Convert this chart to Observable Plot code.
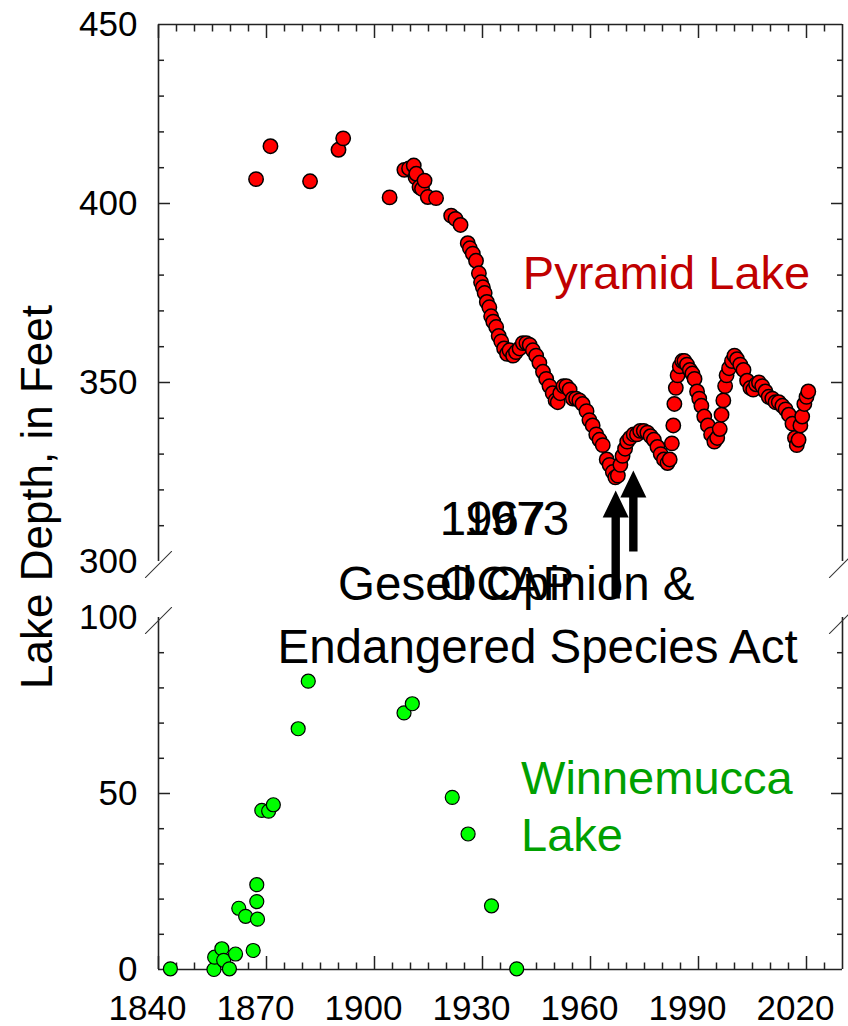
<!DOCTYPE html>
<html>
<head>
<meta charset="utf-8">
<script src="https://cdn.jsdelivr.net/npm/d3@7"></script>
<script src="https://cdn.jsdelivr.net/npm/@observablehq/plot@0.6"></script>
<style>
  html, body { margin: 0; padding: 0; background: #fff; }
  #chart svg { display: block; }
</style>
</head>
<body>
<div id="chart"></div>
<script>
// Winnemucca Lake depth readings (year, feet)
const winnemuccaYears = [
  1843.3, 1855.4, 1855.6, 1857.6, 1858.1, 1859.7, 1861.4, 1862.3, 1864.2, 1866.3,
  1867.3, 1867.3, 1867.5, 1868.7, 1870.6, 1871.9, 1878.8, 1881.6, 1908.2, 1910.5,
  1921.6, 1926.0, 1932.5, 1939.5
];
const winnemuccaDepths = [
  0.2, 0, 3.5, 5.9, 2.6, 0.2, 4.4, 17.4, 15.1, 5.4,
  24.1, 19.3, 14.3, 45.2, 45.0, 46.8, 68.4, 81.9, 72.9, 75.5,
  48.9, 38.5, 18.1, 0.2
];

// Pyramid Lake depth readings (year, feet)
const pyramidYears = [
  1867.1, 1871.1, 1882.1, 1890.0, 1891.3, 1904.2, 1908.3, 1909.6, 1910.9, 1911.4,
  1911.6, 1912.5, 1913.2, 1913.9, 1914.8, 1917.1, 1921.3, 1922.5, 1923.9, 1925.9,
  1926.5, 1927.3, 1928.2, 1929.0, 1929.6, 1930.1, 1930.6, 1931.2, 1931.9, 1932.4,
  1933.0, 1933.8, 1934.5, 1935.2, 1936.0, 1936.8, 1937.5, 1938.5, 1939.3, 1940.3,
  1941.2, 1942.2, 1943.1, 1944.0, 1944.9, 1945.8, 1946.8, 1947.7, 1948.6, 1949.5,
  1950.3, 1950.9, 1951.6, 1952.5, 1953.3, 1954.2, 1955.1, 1956.0, 1956.9, 1957.8,
  1958.9, 1959.7, 1960.6, 1961.6, 1962.5, 1963.4, 1964.5, 1965.3, 1966.2, 1966.9,
  1967.6, 1968.3, 1968.9, 1969.6, 1970.2, 1971.0, 1972.0, 1972.9, 1973.8, 1974.8,
  1975.8, 1976.7, 1977.6, 1978.6, 1979.5, 1980.4, 1981.4, 1982.0, 1982.6, 1983.0,
  1983.3, 1983.7, 1984.2, 1984.8, 1985.5, 1986.1, 1986.8, 1987.6, 1988.3, 1988.9,
  1989.6, 1990.2, 1990.8, 1991.6, 1992.6, 1993.5, 1994.4, 1995.2, 1995.9, 1996.4,
  1996.9, 1997.4, 1997.8, 1998.5, 1999.3, 2000.0, 2000.7, 2001.6, 2002.5, 2003.5,
  2004.4, 2005.2, 2006.0, 2006.8, 2007.7, 2008.6, 2009.5, 2010.5, 2011.4, 2012.3,
  2013.3, 2014.2, 2015.1, 2016.1, 2016.8, 2017.3, 2017.8, 2018.3, 2018.8, 2019.4,
  2020.0, 2020.5
];
const pyramidDepths = [
  406.8, 416.0, 406.2, 415.0, 418.2, 401.7, 409.4, 409.8, 410.6, 407.3,
  408.3, 404.6, 404.1, 406.4, 401.8, 401.5, 396.6, 395.7, 394.0, 388.9,
  387.5, 386.0, 384.0, 380.5, 378.0, 376.6, 375.0, 372.5, 371.0, 368.5,
  367.0, 365.5, 363.0, 361.5, 359.5, 358.0, 359.0, 357.5, 358.5, 359.5,
  361.0, 361.0, 360.5, 359.0, 357.5, 355.5, 353.0, 351.0, 349.0, 347.0,
  345.0, 344.5, 347.0, 349.0, 349.0, 348.0, 345.5, 345.5, 345.0, 344.0,
  342.0, 339.5, 338.0, 335.5, 334.0, 332.5, 328.5, 327.0, 325.0, 323.5,
  324.0, 327.0, 329.5, 331.5, 333.5, 334.5, 335.5, 335.5, 336.5, 336.5,
  336.0, 335.0, 334.0, 332.0, 330.0, 328.5, 327.5, 328.5, 333.0, 338.0,
  344.0, 348.5, 352.0, 354.5, 356.0, 356.0, 355.0, 353.5, 352.5, 351.0,
  347.5, 345.5, 343.5, 340.5, 338.0, 335.5, 333.5, 334.5, 337.0, 341.0,
  345.0, 349.0, 352.0, 354.0, 356.0, 357.5, 356.5, 355.0, 353.5, 350.5,
  348.5, 348.0, 349.5, 350.0, 349.0, 347.5, 346.0, 345.5, 344.5, 344.5,
  343.5, 342.5, 341.0, 338.5, 334.5, 332.5, 334.0, 338.0, 340.5, 344.0,
  346.0, 347.5
];

// Axis ticks and labels
const xTickLabels = [1840, 1870, 1900, 1930, 1960, 1990, 2020];
const xMinorTicks = [1845, 1850, 1855, 1860, 1865, 1875, 1880, 1885, 1890, 1895,
  1905, 1910, 1915, 1920, 1925, 1935, 1940, 1945, 1950, 1955, 1965, 1970, 1975,
  1980, 1985, 1995, 2000, 2005, 2010, 2015, 2025];
const yTickLabels = [0, 50, 100, 300, 350, 400, 450];
const yMajorTicks = [50, 350, 400];
const yMinorTicks = [10, 20, 30, 40, 60, 70, 80, 90, 310, 320, 330, 340, 360, 370, 380, 390, 410, 420, 430, 440];

// Event markers: year and lake level pointed at
const eventYears = [1967, 1971.9];
const eventDepths = [319.8, 325.4];

const pyramid = pyramidYears.map((year, i) => ({year, depth: pyramidDepths[i]}));
const winnemucca = winnemuccaYears.map((year, i) => ({year, depth: winnemuccaDepths[i]}));
const events = eventYears.map((year, i) => ({year, depth: eventDepths[i]}));

const W = 848, H = 1026;
const margin = {top: 24, right: 6, bottom: 57, left: 158};
const upperPanelBottom = 561;   // pixel where the 300 ft panel ends
const lowerPanelTop = 617;      // pixel where the 100 ft panel begins
const axisColor = "#222";
const font = "'Liberation Sans', Arial, Helvetica, sans-serif";

// Filled arrow pointing up, drawn from the tail (0) to the tip (-l)
const solidArrow = {
  draw(context, l) {
    const halfHead = 13, headLen = 27, halfShaft = 4.2;
    context.moveTo(-halfShaft, 0);
    context.lineTo(-halfShaft, -l + headLen);
    context.lineTo(-halfHead, -l + headLen);
    context.lineTo(0, -l);
    context.lineTo(halfHead, -l + headLen);
    context.lineTo(halfShaft, -l + headLen);
    context.lineTo(halfShaft, 0);
    context.closePath();
  }
};
// Plain stroke used for the axis-break slashes
const slash = {
  draw(context, l) {
    context.moveTo(0, 0);
    context.lineTo(0, -l);
  }
};

// arrow lengths in pixels, one per event
const arrowLengths = [108, 81];

const chart = Plot.plot({
  width: W,
  height: H,
  marginTop: margin.top,
  marginRight: margin.right,
  marginBottom: margin.bottom,
  marginLeft: margin.left,
  style: {fontFamily: font, background: "#fff", color: "#000", overflow: "visible"},
  x: {domain: [1840, 2030]},
  y: {
    type: "linear",
    domain: [0, 100, 300, 450],
    range: [H - margin.bottom, lowerPanelTop, upperPanelBottom, margin.top]
  },
  length: {type: "identity"},
  marks: [
    // panel outlines (upper: 300–450, lower: 0–100)
    Plot.ruleY([450], {x1: 1840, x2: 2030, stroke: axisColor, strokeWidth: 1.6}),
    Plot.ruleY([0], {x1: 1840, x2: 2030, stroke: axisColor, strokeWidth: 1.6}),
    Plot.ruleX([1840, 2030], {y1: 300, y2: 450, stroke: axisColor, strokeWidth: 1.6}),
    Plot.ruleX([1840, 2030], {y1: 0, y2: 100, stroke: axisColor, strokeWidth: 1.6}),

    // axis-break slashes
    Plot.vector([[1840, 300], [2030, 300], [1840, 100], [2030, 100]], {
      x: d => d[0], y: d => d[1], shape: slash, length: 37, rotate: 45,
      anchor: "middle", dy: 3, stroke: "#333", strokeWidth: 1
    }),

    // inward tick marks
    Plot.axisX(xTickLabels, {anchor: "bottom", tickSize: -13, fill: "none", label: null, stroke: axisColor, strokeWidth: 1.5}),
    Plot.axisX(xMinorTicks, {anchor: "bottom", tickSize: -6.5, fill: "none", label: null, stroke: axisColor, strokeWidth: 1.5}),
    Plot.axisX(xTickLabels, {anchor: "top", tickSize: -13, fill: "none", label: null, stroke: axisColor, strokeWidth: 1.5}),
    Plot.axisX(xMinorTicks, {anchor: "top", tickSize: -6.5, fill: "none", label: null, stroke: axisColor, strokeWidth: 1.5}),
    Plot.axisY(yMajorTicks, {anchor: "left", tickSize: -12, fill: "none", label: null, stroke: axisColor, strokeWidth: 1.5}),
    Plot.axisY(yMinorTicks, {anchor: "left", tickSize: -6, fill: "none", label: null, stroke: axisColor, strokeWidth: 1.5}),
    Plot.axisY(yMajorTicks, {anchor: "right", tickSize: -12, fill: "none", label: null, stroke: axisColor, strokeWidth: 1.5}),
    Plot.axisY(yMinorTicks, {anchor: "right", tickSize: -6, fill: "none", label: null, stroke: axisColor, strokeWidth: 1.5}),

    // tick labels
    Plot.axisX(xTickLabels, {anchor: "bottom", tickSize: 0, tickPadding: 26, dx: -11, fontSize: 35, label: null, tickFormat: d => String(d)}),
    Plot.axisY(yTickLabels, {anchor: "left", tickSize: 0, tickPadding: 21, fontSize: 35, label: null, tickFormat: d => String(d)}),

    // axis title
    Plot.text(["Lake Depth, in Feet"], {
      text: d => d, frameAnchor: "left", rotate: -90, dx: -121,
      textAnchor: "middle", lineAnchor: "middle", fontSize: 44, fill: "#000"
    }),

    // lake series
    Plot.dot(winnemucca, {x: "year", y: "depth", r: 7, fill: "#00ff00", stroke: "#000", strokeWidth: 1.2}),
    Plot.dot(pyramid, {x: "year", y: "depth", r: 7.2, fill: "#ff0000", stroke: "#000", strokeWidth: 1.5}),

    // series labels
    Plot.text(["Pyramid Lake"], {text: d => d, x: 1941.2, y: 380.4, textAnchor: "start", lineAnchor: "middle", fontSize: 47, fill: "#c00000"}),
    Plot.text(["Winnemucca\nLake"], {text: d => d, x: 1940.7, y: 61.4, textAnchor: "start", lineAnchor: "top", lineHeight: 1.21, fontSize: 47, fill: "#00a000"}),

    // event annotations
    Plot.text(["1967\nOCAP"], {text: d => d, x: 1918.1, y: 320.0, textAnchor: "start", lineAnchor: "top", lineHeight: 1.35, fontSize: 47.5, fill: "#000"}),
    Plot.text(["1973\nGesell Opinion &"], {text: d => d, x: 1939.4, y: 320.0, textAnchor: "middle", lineAnchor: "top", lineHeight: 1.35, fontSize: 47.5, fill: "#000"}),
    Plot.text(["Endangered Species Act"], {text: d => d, x: 1945.3, y: 96.6, textAnchor: "middle", lineAnchor: "top", fontSize: 47.5, fill: "#000"}),
    Plot.vector(events, {
      x: "year", y: "depth", shape: solidArrow, anchor: "end",
      length: (d, i) => arrowLengths[i], rotate: 0, fill: "#000", stroke: "none"
    })
  ]
});

document.getElementById("chart").appendChild(chart);
</script>
</body>
</html>
